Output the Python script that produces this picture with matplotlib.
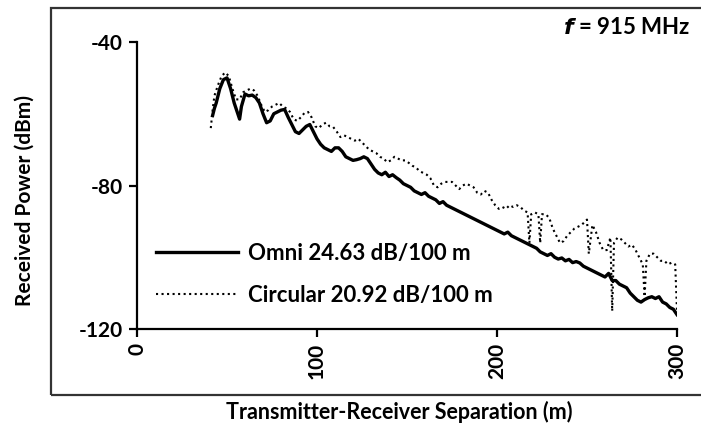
import matplotlib
matplotlib.use("Agg")
import matplotlib.pyplot as plt
from matplotlib.patches import Rectangle

plt.rcParams['font.family'] = ['Lato', 'DejaVu Sans']
plt.rcParams['font.weight'] = 'bold'

# Omni antenna: distance (m), received power (dBm)
omni_x = [42, 43, 44, 46, 48, 50, 52, 54, 56, 57, 58, 60, 62, 64, 66, 68, 70, 72, 74, 76,
          78, 80, 82, 84, 86, 88, 90, 92, 94, 96, 98, 100, 102, 104, 106, 108, 110, 112, 114, 116,
          118, 120, 122, 124, 126, 128, 130, 132, 134, 136, 138, 140, 142, 144, 146, 148, 150, 152, 154, 156,
          158, 160, 162, 164, 166, 168, 170, 172, 174, 176, 178, 180, 182, 184, 186, 188, 190, 192, 194, 196,
          198, 200, 202, 204, 206, 208, 210, 212, 214, 216, 218, 220, 222, 224, 226, 228, 230, 232, 234, 236,
          238, 240, 242, 244, 246, 248, 250, 252, 254, 256, 258, 260, 262, 264, 266, 268, 270, 272, 274, 276,
          278, 280, 282, 284, 286, 288, 290, 292, 294, 296, 298, 300]
omni_y = [-60.5, -58.5, -57, -53, -50.5, -50, -53, -57, -60, -61.5, -58, -54.5, -55, -54.8, -55.5, -57, -60, -62.5, -62, -60,
          -59.5, -59, -58.8, -61, -63, -65, -65.5, -64.5, -63.5, -63, -65, -67, -68.5, -69.5, -70, -70.5, -69.5, -69.5, -70.5, -72,
          -72.5, -73, -72.8, -72.5, -72, -72.5, -74, -75.5, -76.5, -77, -76.3, -77.5, -77, -77.8, -78.5, -79.5, -80, -80.5, -81.5, -82,
          -82.5, -82, -83, -83.5, -84, -85, -84.5, -85.5, -86, -86.5, -87, -87.5, -88, -88.5, -89, -89.5, -90, -90.5, -91, -91.5,
          -92, -92.5, -93, -93.5, -93, -94, -94.5, -95, -95.5, -96, -96.5, -97, -97.5, -98.5, -99, -99.5, -99, -100, -100.5, -100.2,
          -101, -100.6, -101.5, -101.2, -101.6, -102.5, -103, -103.5, -104, -104.5, -105, -105.5, -104.5, -106.5, -106.5, -107.5, -108, -108.5, -110, -111,
          -112, -112.5, -111.8, -111.3, -111, -111.5, -111, -112.5, -113, -114, -114.5, -116]

# Circular antenna: distance (m), received power (dBm)
circ_x = [41, 42, 43, 45, 47, 49, 51, 53, 55, 57, 59, 61, 63, 65, 67, 69, 71, 73, 75, 77,
          79, 81, 83, 85, 87, 89, 91, 93, 95, 97, 99, 101, 103, 105, 107, 109, 111, 113, 115, 117,
          119, 121, 123, 125, 127, 129, 131, 133, 135, 137, 139, 141, 143, 145, 147, 149, 151, 153, 155, 157,
          159, 161, 163, 165, 167, 169, 171, 173, 175, 177, 179, 181, 183, 185, 187, 189, 191, 193, 195, 197,
          199, 201, 203, 205, 207, 209, 211, 213, 215, 217, 218, 219, 221, 223, 224, 225, 227, 229, 231, 233,
          235, 237, 239, 241, 243, 245, 247, 249, 250, 251, 253, 255, 257, 259, 261, 263, 264, 265, 267, 269,
          271, 273, 275, 277, 279, 281, 282, 283, 285, 287, 289, 291, 293, 295, 297, 299, 300]
circ_y = [-64, -59, -55, -52, -49.5, -48.5, -49.5, -53, -56, -56, -54, -53.5, -53, -53.5, -55, -57.5, -59.5, -59, -58, -57.5,
          -57, -58, -58.5, -59.5, -61.5, -62, -61, -59.8, -59.5, -61, -63.5, -64, -63, -62.5, -63.5, -63.7, -65, -66.5, -66, -66.5,
          -67, -67.5, -67, -68, -69, -70, -70.5, -71, -72, -72.5, -73.5, -73, -72, -72.5, -73, -73, -73.7, -74.5, -75, -76,
          -76.5, -77, -78, -80, -80.5, -79.5, -79, -79, -79, -80, -81, -80, -79.5, -80, -80.5, -82, -82.5, -81.5, -82, -84,
          -85.5, -86.5, -86, -86.5, -85.5, -86, -85.5, -86, -87, -87.5, -96, -88, -87.5, -88, -96, -88, -88, -89, -92, -94,
          -96, -95.5, -94, -93, -92, -91.5, -91, -90, -89.5, -99, -91, -93, -96, -98, -98, -94.5, -115, -96, -94.5, -95,
          -96, -97, -96.5, -98, -100, -102, -111, -101, -99, -99, -100, -101, -101, -102, -101.5, -102, -115]

x_ticks = [0, 100, 200, 300]
y_ticks = [-120, -80, -40]
omni_label = "Omni 24.63 dB/100 m"
circ_label = "Circular 20.92 dB/100 m"

fig = plt.figure(figsize=(7.01, 4.38), dpi=100)
fig.patches.append(Rectangle((51 / 701, 1 - 395 / 438), 1.0, (395 - 8) / 438,
                             transform=fig.transFigure, fill=False,
                             edgecolor='#333333', linewidth=1.6))

ax = fig.add_axes([137 / 701, 1 - 329 / 438, (677 - 137) / 701, (329 - 42) / 438])
ax.plot(omni_x, omni_y, color='black', linewidth=2.4, label=omni_label)
ax.plot(circ_x, circ_y, color='black', linewidth=1.5, linestyle=':', label=circ_label)

ax.set_xlim(0, 300)
ax.set_ylim(-120, -40)
ax.set_xticks(x_ticks)
ax.set_yticks(y_ticks)
ax.set_xticklabels([str(v) for v in x_ticks], rotation=90, fontsize=15, fontweight='bold')
ax.set_yticklabels([str(v) for v in y_ticks], fontsize=15, fontweight='bold')
for s in ['top', 'right']:
    ax.spines[s].set_visible(False)
for s in ['left', 'bottom']:
    ax.spines[s].set_linewidth(1.6)
ax.tick_params(axis='both', direction='out', length=6, width=1.6, pad=4)

ax.legend(loc='upper left', bbox_to_anchor=(0.035, 0.30), frameon=False,
          prop={'size': 16, 'weight': 'bold'}, handlelength=3.7, handletextpad=0.45,
          labelspacing=0.95, borderaxespad=0, borderpad=0)

fig.text(690 / 701, 1 - 28 / 438, r"$\mathbfit{f}$ = 915 MHz", ha='right', va='center',
         fontsize=16, fontweight='bold')
fig.text(399 / 701, 1 - 412 / 438, "Transmitter-Receiver Separation (m)", ha='center',
         va='center', fontsize=15.5, fontweight='bold')
fig.text(25 / 701, 1 - 200 / 438, "Received Power (dBm)", ha='center', va='center',
         rotation=90, fontsize=15, fontweight='bold')

fig.savefig("out.png", dpi=100)
